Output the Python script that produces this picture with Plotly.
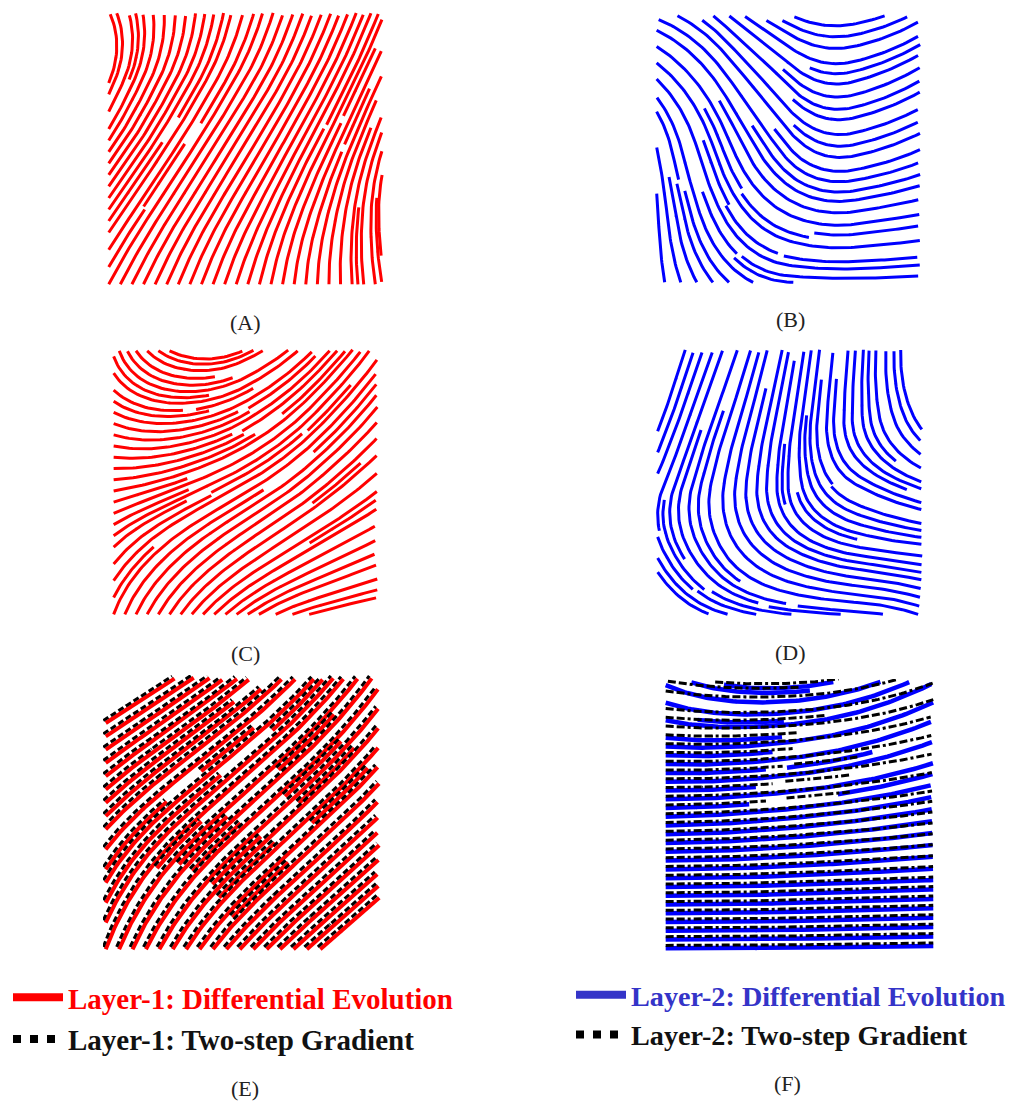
import numpy as np
import plotly.graph_objects as go
import plotly.figure_factory as ff

# Flow directions (degrees, counter-clockwise from +x) sampled on a regular
# 5x5 grid over each unit-square panel. Rows run bottom -> top, columns left -> right.
dir_a = [[62, 68, 74, 88, 100],
         [55, 58, 62, 72, 92],
         [55, 57, 58, 62, 72],
         [68, 62, 60, 62, 65],
         [115, 88, 75, 70, 68]]

dir_b = [[-85, -45, -3, 0, 3],
         [-88, -62, -25, 8, 10],
         [-78, -70, -50, 12, 25],
         [-45, -55, -45, 15, 30],
         [-20, -40, -25, 10, 30]]

dir_c = [[70, 55, 35, 15, 8],
         [45, 40, 35, 30, 25],
         [5, 20, 30, 40, 40],
         [-25, 5, 30, 45, 50],
         [-75, -20, 25, 45, 55]]

dir_d = [[-40, -15, -5, -3, -20],
         [-65, -60, -30, -10, -5],
         [-115, -100, -90, -30, -20],
         [-110, -110, -100, -90, -60],
         [-105, -110, -100, -95, -90]]

dir_e_de = [[70, 60, 48, 42, 40],
            [60, 52, 45, 42, 42],
            [45, 42, 42, 43, 45],
            [35, 36, 40, 45, 50],
            [30, 33, 40, 48, 55]]

dir_e_grad = [[70, 60, 48, 42, 40],
              [60, 52, 45, 42, 42],
              [45, 42, 42, 43, 45],
              [35, 36, 40, 45, 50],
              [30, 33, 40, 48, 55]]

dir_f_de = [[0, 0, 1, 1, 0],
            [0, 1, 2, 2, 2],
            [1, 4, 6, 8, 10],
            [-3, 3, 8, 15, 20],
            [-25, -8, 5, 18, 28]]

dir_f_grad = [[0, 0, 1, 1, 0],
              [0, 1, 2, 2, 2],
              [1, 3, 5, 6, 8],
              [-2, 2, 5, 9, 13],
              [-10, -3, 3, 12, 22]]

panel_labels = ["(A)", "(B)", "(C)", "(D)", "(E)", "(F)"]
legend_e = ["Layer-1: Differential Evolution", "Layer-1: Two-step Gradient"]
legend_f = ["Layer-2: Differential Evolution", "Layer-2: Two-step Gradient"]

RED = "#ff0000"
BLUE = "#0000ff"
LEG_BLUE = "#3434c8"

W, H = 1011, 1104
# panel boxes in pixels: left, right, top, bottom
boxes = [(106, 385, 10, 287), (654, 923, 13, 285),
         (111, 380, 347, 617), (655, 925, 347, 617),
         (103, 382, 675, 952), (663, 936, 679, 951)]
caption_pos = [(245, 322), (790, 320), (245, 653), (790, 652), (245, 1088), (787, 1083)]


def streamlines(angles, density, shift=(0.0, 0.0)):
    ang = np.radians(np.asarray(angles, dtype=float))
    ny, nx = ang.shape
    xs = np.linspace(0, 1, nx) + shift[0]
    ys = np.linspace(0, 1, ny) + shift[1]
    sf = ff.create_streamline(xs, ys, np.cos(ang), np.sin(ang),
                              density=density, arrow_scale=0.001)
    tr = sf.data[0]
    return np.asarray(tr.x, dtype=float), np.asarray(tr.y, dtype=float)


fig = go.Figure()


def add_lines(k, angles, density, color, width, dash="solid", shift=(0.0, 0.0)):
    x, y = streamlines(angles, density, shift)
    sfx = "" if k == 1 else str(k)
    fig.add_trace(go.Scatter(x=x, y=y, mode="lines", showlegend=False,
                             line=dict(color=color, width=width, dash=dash),
                             xaxis="x" + sfx, yaxis="y" + sfx, hoverinfo="skip"))


add_lines(1, dir_a, 2.0, RED, 3)
add_lines(2, dir_b, 1.4, BLUE, 3)
add_lines(3, dir_c, 2.0, RED, 3)
add_lines(4, dir_d, 1.6, BLUE, 3)
add_lines(5, dir_e_de, 1.75, RED, 4)
add_lines(5, dir_e_grad, 1.75, "#000000", 3, dash="6px,3px", shift=(-0.009, 0.009))
add_lines(6, dir_f_de, 1.3, BLUE, 4.5)
add_lines(6, dir_f_grad, 1.3, "#000000", 3, dash="8px,3px,8px,3px,3px,3px", shift=(0.0, 0.011))

# legend entries
fig.add_trace(go.Scatter(x=[None], y=[None], mode="lines", legend="legend",
                         name=f"<span style='color:{RED}'>{legend_e[0]}</span>",
                         line=dict(color=RED, width=8), legendgroup="e1"))
fig.add_trace(go.Scatter(x=[None], y=[None], mode="lines", legend="legend",
                         name=legend_e[1], legendgroup="e2",
                         line=dict(color="#000000", width=8, dash="8px,9px")))
fig.add_trace(go.Scatter(x=[None], y=[None], mode="lines", legend="legend2",
                         name=f"<span style='color:{LEG_BLUE}'>{legend_f[0]}</span>",
                         line=dict(color=LEG_BLUE, width=8), legendgroup="f1"))
fig.add_trace(go.Scatter(x=[None], y=[None], mode="lines", legend="legend2",
                         name=legend_f[1], legendgroup="f2",
                         line=dict(color="#000000", width=8, dash="8px,9px")))

layout = dict(width=W, height=H,
              margin=dict(l=0, r=0, t=0, b=0, autoexpand=False),
              paper_bgcolor="white", plot_bgcolor="white", showlegend=True)
for i, (l, r, t, b) in enumerate(boxes):
    sfx = "" if i == 0 else str(i + 1)
    ax = dict(range=[-0.01, 1.01], visible=False, showgrid=False, zeroline=False)
    layout["xaxis" + sfx] = dict(ax, domain=[l / W, r / W], anchor="y" + sfx)
    layout["yaxis" + sfx] = dict(ax, domain=[1 - b / H, 1 - t / H], anchor="x" + sfx)

leg_font = dict(family="Liberation Serif", size=29, color="#111111", weight="bold")
layout["legend"] = dict(x=8 / W, y=1 - 972 / H, xanchor="left", yanchor="top",
                        font=leg_font, bgcolor="rgba(0,0,0,0)", traceorder="grouped",
                        tracegroupgap=1, itemwidth=50)
layout["legend2"] = dict(x=571 / W, y=1 - 970 / H, xanchor="left", yanchor="top",
                         font=dict(leg_font, size=28.2), bgcolor="rgba(0,0,0,0)",
                         traceorder="grouped", tracegroupgap=0, itemwidth=50)
fig.update_layout(**layout)

for txt, (cx, cy) in zip(panel_labels, caption_pos):
    fig.add_annotation(text=txt, x=cx / W, y=1 - cy / H, xref="paper", yref="paper",
                       showarrow=False, xanchor="center", yanchor="middle",
                       font=dict(family="Liberation Serif", size=22, color="#222222"))

fig.write_html("out.html")
